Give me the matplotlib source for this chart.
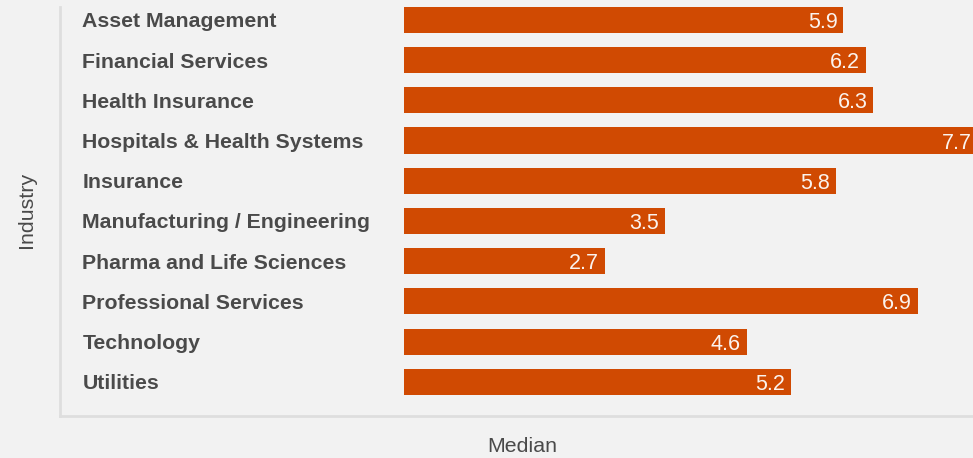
import matplotlib
matplotlib.use('Agg')
import matplotlib.pyplot as plt

industries = ['Asset Management', 'Financial Services', 'Health Insurance',
              'Hospitals & Health Systems', 'Insurance', 'Manufacturing / Engineering',
              'Pharma and Life Sciences', 'Professional Services', 'Technology', 'Utilities']
medians = [5.9, 6.2, 6.3, 7.7, 5.8, 3.5, 2.7, 6.9, 4.6, 5.2]

bg = '#f2f2f2'
bar_color = '#d04a02'
text_color = '#4a4a4a'
spine_color = '#dedede'

plt.rcParams['font.family'] = ['Liberation Sans', 'DejaVu Sans']

fig = plt.figure(figsize=(9.73, 4.58), dpi=100, facecolor=bg)
ax = fig.add_axes([60 / 973, 42 / 458, 913 / 973, 409 / 458])
ax.set_facecolor(bg)

y = range(len(industries))
ax.barh(y, medians, height=0.65, color=bar_color, zorder=2)

xmin, xmax = -4.62, 7.64
ax.set_xlim(xmin, xmax)
ax.set_ylim(9.85, -0.32)

label_x = xmin + 0.30
for i, name in enumerate(industries):
    ax.text(label_x, i, name, ha='left', va='center_baseline', fontsize=15.3,
            fontweight='bold', color=text_color)

for i, v in enumerate(medians):
    ax.text(v - 0.08, i, f'{v}', ha='right', va='center_baseline', fontsize=15.5,
            color='#fbf3ee', zorder=3, clip_on=True)

ax.set_xticks([])
ax.set_yticks([])
for s in ['top', 'right']:
    ax.spines[s].set_visible(False)
for s in ['left', 'bottom']:
    ax.spines[s].set_color(spine_color)
    ax.spines[s].set_linewidth(2)

fig.text(27 / 973, 1 - 210 / 458, 'Industry', rotation=90, ha='center', va='center',
         fontsize=15.4, color=text_color)
fig.text(522 / 973, 1 - 446 / 458, 'Median', ha='center', va='center',
         fontsize=15.4, color=text_color)

fig.savefig('out.png', dpi=100, facecolor=bg)
